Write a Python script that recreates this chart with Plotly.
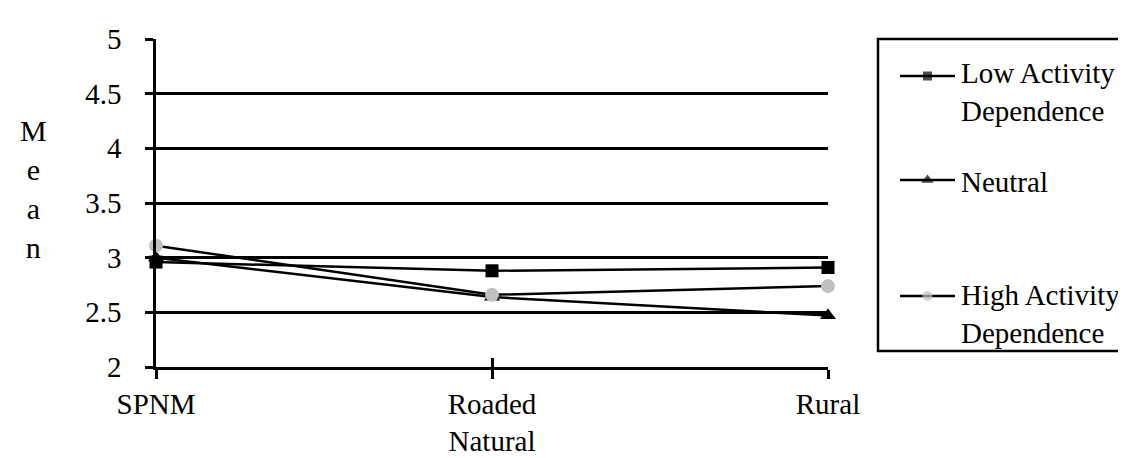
import plotly.graph_objects as go

categories = ["SPNM", "Roaded<br>Natural", "Rural"]
low_activity = [2.96, 2.88, 2.91]
neutral = [3.00, 2.64, 2.47]
high_activity = [3.11, 2.66, 2.74]
y_ticks = [2, 2.5, 3, 3.5, 4, 4.5, 5]
y_ticktext = ["2", "2.5", "3", "3.5", "4", "4.5", "5"]
series_names = ["Low Activity<br>Dependence", "Neutral", "High Activity<br>Dependence"]
y_title = "Mean"

FONT = "Liberation Serif"
W, H = 1126, 458
# plot area in pixels
PL, PR, PT, PB = 148, 820, 31, 359

symbols = ["square", "triangle-up", "circle"]
marker_sizes = [13, 14, 14]
legend_marker_sizes = [9, 11, 10]
marker_colors = ["black", "black", "#c0c0c0"]
series_values = [low_activity, neutral, high_activity]

xs = list(range(len(categories)))

fig = go.Figure()
# invisible trace so that the secondary x axis (crossing ticks) is drawn
fig.add_trace(go.Scatter(x=xs, y=low_activity, xaxis="x2", yaxis="y", mode="markers",
                         marker=dict(opacity=0, size=1), hoverinfo="skip", showlegend=False))
for name, vals, sym, ms, mc in zip(series_names, series_values, symbols, marker_sizes, marker_colors):
    fig.add_trace(go.Scatter(x=xs, y=vals, name=name, mode="lines+markers",
                             line=dict(color="black", width=2.5),
                             marker=dict(symbol=sym, size=ms, color=mc),
                             cliponaxis=False, showlegend=False))

# manual legend (helper axes in pixel units)
LEG_LINE_X0, LEG_LINE_X1, LEG_TEXT_X = 892, 947, 951
leg_rows = [68, 172, 288]
leg_text_rows = [84, 174, 306]
for name, sym, ms, mc, yrow in zip(series_names, symbols, legend_marker_sizes, marker_colors, leg_rows):
    xm = (LEG_LINE_X0 + LEG_LINE_X1) / 2
    fig.add_trace(go.Scatter(x=[LEG_LINE_X0, xm, LEG_LINE_X1], y=[yrow] * 3,
                             mode="lines+markers", xaxis="x3", yaxis="y3",
                             line=dict(color="black", width=2.5),
                             marker=dict(symbol=sym, size=[0, ms, 0], color=mc, line=dict(width=0)),
                             showlegend=False, hoverinfo="skip", cliponaxis=False))

annotations = []
for name, ty in zip(series_names, leg_text_rows):
    annotations.append(dict(text=name, xref="x3", yref="y3", x=LEG_TEXT_X, y=ty,
                            xanchor="left", yanchor="middle", align="left",
                            showarrow=False,
                            font=dict(family=FONT, size=29, color="black")))
annotations.append(dict(text="<br>".join(y_title), xref="paper", yref="paper",
                        x=25 / W, y=1 - 181 / H, xanchor="center", yanchor="middle",
                        showarrow=False, align="center",
                        font=dict(family=FONT, size=30, color="black")))

shapes = [dict(type="rect", xref="paper", yref="paper",
               x0=870 / W, x1=1122 / W, y0=1 - 31 / H, y1=1 - 343 / H,
               line=dict(color="black", width=2.5), fillcolor="rgba(0,0,0,0)", layer="above")]

xdom = [PL / W, PR / W]
ydom = [1 - PB / H, 1 - PT / H]

fig.update_layout(
    width=W, height=H,
    margin=dict(l=0, r=0, t=0, b=0, autoexpand=False),
    paper_bgcolor="white", plot_bgcolor="rgba(0,0,0,0)",
    font=dict(family=FONT, size=30, color="black"),
    showlegend=False,
    xaxis=dict(domain=xdom, range=[0, 2], tickvals=xs, ticktext=categories,
               showgrid=False, zeroline=False,
               showline=True, linecolor="black", linewidth=2.5,
               ticks="outside", ticklen=9, tickwidth=2.5, tickcolor="black",
               tickfont=dict(family=FONT, size=29, color="black"),
               ticklabelstandoff=0),
    xaxis2=dict(domain=xdom, range=[0, 2], tickvals=xs, overlaying="x", anchor="y", side="bottom",
                showgrid=False, zeroline=False, showline=False,
                ticks="inside", ticklen=9, tickwidth=2.5, tickcolor="black",
                showticklabels=False),
    yaxis=dict(domain=ydom, range=[2, 5], tickvals=y_ticks, ticktext=y_ticktext,
               showgrid=True, gridcolor="black", gridwidth=2.5, zeroline=False,
               showline=True, linecolor="black", linewidth=2.5,
               ticks="outside", ticklen=8, tickwidth=2.5, tickcolor="black",
               tickfont=dict(family=FONT, size=29, color="black"),
               ticklabelstandoff=18),
    xaxis3=dict(domain=[0, 1], range=[0, W], visible=False, anchor="y3"),
    yaxis3=dict(domain=[0, 1], range=[H, 0], visible=False, anchor="x3"),
    annotations=annotations,
    shapes=shapes,
)

fig.write_html("out.html")
